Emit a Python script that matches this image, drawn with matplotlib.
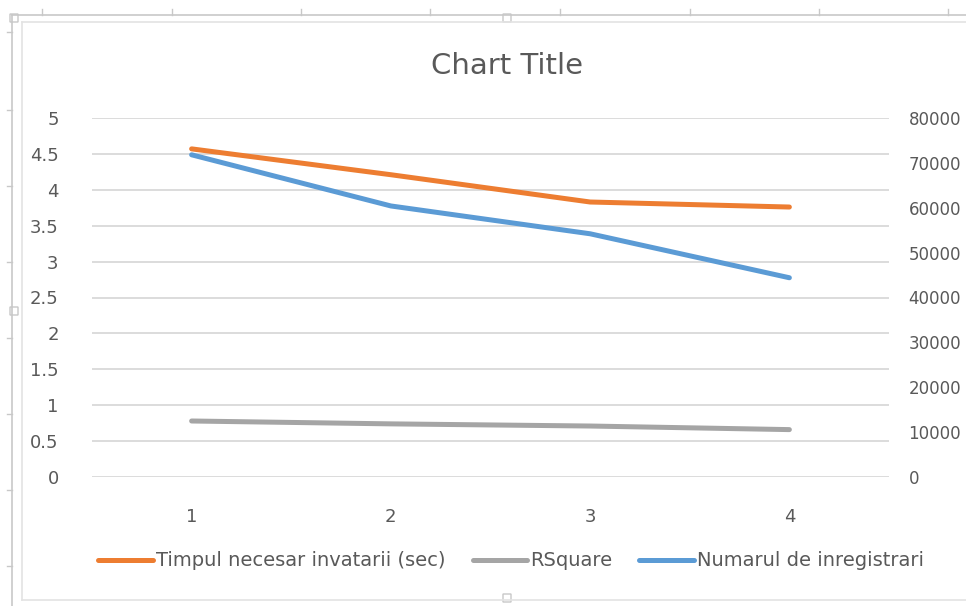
import matplotlib.pyplot as plt
from matplotlib.lines import Line2D
from matplotlib.patches import FancyBboxPatch

# data
categories = [1, 2, 3, 4]
timp = [4.57, 4.21, 3.83, 3.76]          # Timpul necesar invatarii (sec), left axis
rsquare = [0.78, 0.74, 0.71, 0.66]       # RSquare, left axis
inregistrari = [71800, 60400, 54200, 44400]  # Numarul de inregistrari, right axis
left_ticks = [0, 0.5, 1, 1.5, 2, 2.5, 3, 3.5, 4, 4.5, 5]
left_labels = ['0', '0.5', '1', '1.5', '2', '2.5', '3', '3.5', '4', '4.5', '5']
right_ticks = [0, 10000, 20000, 30000, 40000, 50000, 60000, 70000, 80000]

W, H = 966, 606
txt = '#595959'
grid = '#d9d9d9'
plt.rcParams['font.family'] = ['DejaVu Sans']

fig = plt.figure(figsize=(W / 100, H / 100), dpi=100)

def fx(px):
    return px / W

def fy(py):
    return 1 - py / H

# excel frame / ruler decoration
frame = '#c8c8c8'
fig.add_artist(Line2D([fx(12), 1], [fy(15), fy(15)], color=frame, lw=1.2))
fig.add_artist(Line2D([fx(12), fx(12)], [fy(15), fy(606)], color=frame, lw=1.2))
for x in [42, 172, 301, 430, 560, 690, 819, 948]:
    fig.add_artist(Line2D([fx(x), fx(x)], [fy(9), fy(15)], color=frame, lw=1))
for y in [32, 110, 186, 262, 338, 414, 490, 566]:
    fig.add_artist(Line2D([fx(7), fx(12)], [fy(y), fy(y)], color=frame, lw=1))
fig.add_artist(Line2D([fx(22), 1], [fy(22), fy(22)], color='#e3e3e3', lw=1.2))
fig.add_artist(Line2D([fx(22), fx(22)], [fy(22), fy(600)], color='#e3e3e3', lw=1.2))
fig.add_artist(Line2D([fx(22), 1], [fy(600), fy(600)], color='#e3e3e3', lw=1.2))
for (hx, hy) in [(14, 18), (507, 18), (14, 311), (507, 598)]:
    fig.add_artist(FancyBboxPatch((fx(hx - 4), fy(hy + 4)), fx(8), 8 / H,
                                  boxstyle='round,pad=0', fc='white', ec=frame, lw=1))

ax = fig.add_axes([fx(92), fy(477), fx(889) - fx(92), fy(118) - fy(477)])
ax2 = ax.twinx()

ax.plot(categories, timp, color='#ED7D31', lw=3.6, solid_capstyle='round',
        label='Timpul necesar invatarii (sec)', zorder=3)
ax.plot(categories, rsquare, color='#A5A5A5', lw=3.6, solid_capstyle='round',
        label='RSquare', zorder=3)
ax2.plot(categories, inregistrari, color='#5B9BD5', lw=3.6, solid_capstyle='round',
         label='Numarul de inregistrari', zorder=3)

ax.set_xlim(0.5, 4.5)
ax.set_ylim(0, 5)
ax2.set_ylim(0, 80000)
ax.set_xticks(categories)
ax.set_yticks(left_ticks)
ax.set_yticklabels(left_labels)
ax2.set_yticks(right_ticks)
ax2.set_yticklabels([str(v) for v in right_ticks])

ax.grid(axis='y', color=grid, lw=1.3)
ax.set_axisbelow(True)
for a in (ax, ax2):
    for s in a.spines.values():
        s.set_visible(False)
    a.tick_params(length=0, colors=txt, labelsize=13)
ax.tick_params(axis='y', pad=24)
ax.tick_params(axis='x', pad=22)
# right labels are cut by the screenshot edge in the original; keep them readable here
ax2.tick_params(axis='y', pad=14, labelsize=12)

fig.text(fx(507), fy(66), 'Chart Title', ha='center', va='center',
         fontsize=21, color=txt)

h1, l1 = ax.get_legend_handles_labels()
h2, l2 = ax2.get_legend_handles_labels()
fig.legend(h1 + h2, l1 + l2, loc='center', bbox_to_anchor=(fx(511), fy(561)),
           ncol=3, frameon=False, fontsize=14, labelcolor=txt,
           handlelength=2.8, handletextpad=0.15, columnspacing=1.4)

fig.savefig('out.png', dpi=100)
